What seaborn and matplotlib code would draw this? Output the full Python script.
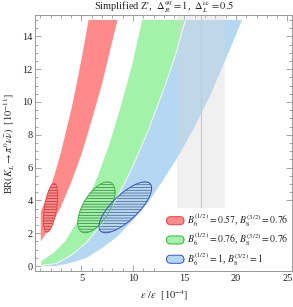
import numpy as np
import matplotlib
matplotlib.use('Agg')
import matplotlib.pyplot as plt
import seaborn as sns
from matplotlib.patches import Patch, FancyBboxPatch
from matplotlib.legend_handler import HandlerPatch
from matplotlib.ticker import MultipleLocator

# band edges: (eps'/eps, BR) along the upper-left and lower-right boundaries
red_left_x = [1.05, 1.5, 2.0, 2.5, 3.0, 3.5, 4.0, 4.5, 5.0, 5.7]
red_left_y = [3.3, 4.0, 4.8, 5.8, 6.9, 8.2, 9.5, 11.0, 12.6, 15.0]
red_right_x = [1.05, 2.0, 3.0, 4.0, 5.0, 6.0, 7.0, 7.8, 8.5]
red_right_y = [1.5, 2.4, 3.6, 5.1, 6.8, 8.9, 11.1, 13.2, 15.0]

green_left_x = [1.1, 1.1, 2.3, 3.4, 4.5, 5.6, 6.6, 7.7, 8.8, 9.9, 10.9]
green_left_y = [0.05, 0.3, 0.8, 1.5, 2.6, 4.0, 5.5, 7.4, 9.7, 12.2, 15.0]
# green lower edge = blue upper edge
mid_x = [1.15, 2.5, 4.0, 5.5, 7.0, 8.5, 10.0, 11.5, 13.0, 14.0, 15.1]
mid_y = [0.05, 0.15, 0.65, 1.45, 2.6, 4.2, 6.1, 8.3, 10.8, 12.6, 15.0]

blue_right_x = [1.2, 2.5, 4.0, 5.5, 7.0, 8.5, 10.0, 11.5, 13.0, 14.5, 16.0, 17.5, 19.0, 20.6]
blue_right_y = [0.0, 0.0, 0.2, 0.5, 1.1, 1.8, 2.8, 3.9, 5.3, 6.8, 8.5, 10.4, 12.6, 15.0]

# experimental eps'/eps range and central value
exp_low, exp_central, exp_high = 14.3, 16.6, 18.9

# ellipses: centre, half width, half height, correlation
ell_cx = [2.0, 6.45, 9.26]
ell_cy = [3.55, 3.58, 3.58]
ell_sx = [0.69, 1.81, 2.56]
ell_sy = [1.48, 1.55, 1.55]
ell_rho = [0.5, 0.6, 0.75]

labels = [r'$B_6^{(1/2)} = 0.57$, $B_8^{(3/2)} = 0.76$',
          r'$B_6^{(1/2)} = 0.76$, $B_8^{(3/2)} = 0.76$',
          r'$B_6^{(1/2)} = 1$, $B_8^{(3/2)} = 1$']
face = ['#ff8a8a', '#a2f2aa', '#b4d8f2']
edge = ['#e04848', '#3cb043', '#3a52c0']
hatchc = ['#a83030', '#2e7a34', '#4a5a8a']

sns.set_theme(style='ticks')
plt.rcParams['font.family'] = ['Liberation Serif', 'DejaVu Serif']
plt.rcParams['mathtext.fontset'] = 'stix'
plt.rcParams['hatch.linewidth'] = 0.5

fig = plt.figure(figsize=(2.93, 3.07), dpi=100)
ax = fig.add_axes([35.3/293, 1-271/307, 257/293, 256/307])

def band(lx, ly, rx, ry):
    return list(lx) + list(rx)[::-1], list(ly) + list(ry)[::-1]

bx, by = band(red_left_x, red_left_y, red_right_x, red_right_y)
ax.fill(bx, by, color=face[0], lw=0)
bx, by = band(green_left_x, green_left_y, mid_x, mid_y)
ax.fill(bx, by, color=face[1], lw=0)
bx, by = band(mid_x, mid_y, blue_right_x, blue_right_y)
ax.fill(bx, by, color=face[2], lw=0)
ax.plot(mid_x, mid_y, color='white', lw=0.6)

ax.axvspan(exp_low, exp_high, color='#d6d6d6', alpha=0.35, lw=0)
ax.axvline(exp_central, color='#c8c8c8', lw=0.8)

t = np.linspace(0, 2*np.pi, 200)
for i in range(3):
    ex = ell_cx[i] + ell_sx[i]*np.cos(t)
    ey = ell_cy[i] + ell_sy[i]*np.cos(t - np.arccos(ell_rho[i]))
    ax.fill(ex, ey, facecolor=face[i], edgecolor=hatchc[i], hatch='------', lw=0)
    sns.lineplot(x=ex, y=ey, sort=False, color=edge[i], lw=0.7, ax=ax, estimator=None)

ax.set_xlim(0.52, 25.47)
ax.set_ylim(-0.3, 15.3)
ax.xaxis.set_major_locator(MultipleLocator(5))
ax.xaxis.set_minor_locator(MultipleLocator(1))
ax.yaxis.set_major_locator(MultipleLocator(2))
ax.yaxis.set_minor_locator(MultipleLocator(0.5))
ax.tick_params(which='both', direction='in', top=True, right=True, color='#999999', width=0.6, labelsize=7.5, labelcolor='#222222', pad=2)
ax.tick_params(which='major', length=4)
ax.tick_params(which='minor', length=2)
for s in ax.spines.values():
    s.set_color('#999999')
    s.set_linewidth(0.7)

ax.set_title(r"Simplified Z',  $\Delta_R^{qq} = 1$,  $\Delta_L^{\nu\bar{\nu}} = 0.5$", fontsize=7.5, pad=2)
ax.set_xlabel(r"$\epsilon'/\epsilon$  $[10^{-4}]$", fontsize=7.5, labelpad=4)
ax.set_ylabel(r"BR$(K_L \rightarrow \pi^0\nu\bar{\nu})$  $[10^{-11}]$", fontsize=7.5, labelpad=4)

def rounded(legend, orig_handle, xdescent, ydescent, width, height, fontsize):
    return FancyBboxPatch((-xdescent, -ydescent), width, height,
                          boxstyle='round,pad=0,rounding_size=3')

handles = [Patch(facecolor=face[i], edgecolor=edge[i], lw=0.7) for i in range(3)]
leg = ax.legend(handles, labels, loc='lower right', fontsize=7, frameon=True,
                facecolor='white', edgecolor='none', framealpha=1, fancybox=False,
                handlelength=1.8, handleheight=0.9, handletextpad=0.35,
                labelspacing=0.15, borderpad=0.3, borderaxespad=0.05,
                handler_map={Patch: HandlerPatch(patch_func=rounded)})

fig.savefig('out.png', dpi=100)
